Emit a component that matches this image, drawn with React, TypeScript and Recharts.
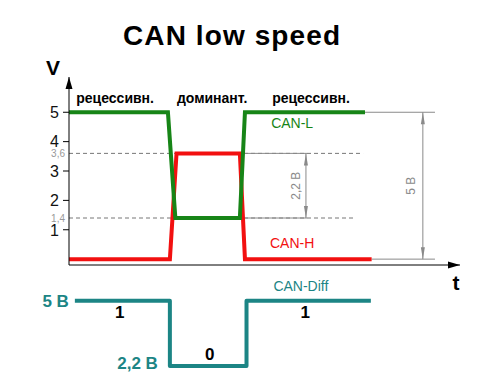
import React from 'react';
import { LineChart, Line, XAxis, YAxis, ReferenceLine, ReferenceDot } from 'recharts';

// time axis runs 0..10 (arbitrary units), voltage in volts
const canL = [
  { t: 0, v: 5 },
  { t: 2.53, v: 5 },
  { t: 2.72, v: 1.4 },
  { t: 4.37, v: 1.4 },
  { t: 4.5, v: 5 },
  { t: 7.57, v: 5 },
];

const canH = [
  { t: 0, v: 0 },
  { t: 2.58, v: 0 },
  { t: 2.75, v: 3.6 },
  { t: 4.37, v: 3.6 },
  { t: 4.5, v: 0 },
  { t: 7.74, v: 0 },
];

const canDiff = [
  { t: 0.15, v: 5 },
  { t: 2.58, v: 5 },
  { t: 2.58, v: 2.2 },
  { t: 4.54, v: 2.2 },
  { t: 4.54, v: 5 },
  { t: 7.72, v: 5 },
];

const voltTicks = [1, 1.4, 2, 3, 3.6, 4, 5];
const phases = ['рецессивн.', 'доминант.', 'рецессивн.'];
const bits = ['1', '0', '1'];

const FONT = 'Liberation Sans, Arial, Helvetica, sans-serif';
const GREEN = '#178517';
const RED = '#f21010';
const TEAL = '#1c8585';
const GREY = '#8a8a8a';

const VTick = (props: any) => {
  const { x, y, payload } = props;
  const minor = !Number.isInteger(payload.value);
  if (minor) {
    return (
      <text x={x - 4} y={y} dy="0.35em" textAnchor="end" fontSize={10} fill="#999" fontFamily={FONT}>
        {String(payload.value).replace('.', ',')}
      </text>
    );
  }
  return (
    <g>
      <line x1={x - 6} x2={x} y1={y} y2={y} stroke="#000" />
      <text x={x - 10} y={y} dy="0.36em" textAnchor="end" fontSize={16} fill="#111" fontFamily={FONT}>
        {payload.value}
      </text>
    </g>
  );
};

const note =
  (text: string, o: { dx?: number; dy?: number; size?: number; fill?: string; bold?: boolean; anchor?: string; rot?: boolean }) =>
  (p: any) => {
    const x = p.cx + (o.dx || 0);
    const y = p.cy + (o.dy || 0);
    return (
      <text
        x={x}
        y={y}
        textAnchor={o.anchor || 'middle'}
        fontSize={o.size || 14}
        fill={o.fill || '#000'}
        fontWeight={o.bold ? 'bold' : 'normal'}
        fontFamily={FONT}
        transform={o.rot ? `rotate(-90 ${x} ${y})` : undefined}
      >
        {text}
      </text>
    );
  };

const arrow = (dir: 'up' | 'down' | 'right', color: string, len: number, half: number) => (p: any) => {
  const { cx, cy } = p;
  let pts = '';
  if (dir === 'up') pts = `${cx},${cy} ${cx - half},${cy + len} ${cx + half},${cy + len}`;
  if (dir === 'down') pts = `${cx},${cy} ${cx - half},${cy - len} ${cx + half},${cy - len}`;
  if (dir === 'right') pts = `${cx},${cy} ${cx - len},${cy - half} ${cx - len},${cy + half}`;
  return <polygon points={pts} fill={color} />;
};

export default function App() {
  return (
    <div style={{ position: 'absolute', left: 0, top: 0, width: 485, height: 391, background: '#fff' }}>
      <svg width={485} height={391} style={{ position: 'absolute', left: 0, top: 0 }}>
        <text x={123} y={45} fontSize={28} fontWeight="bold" fontFamily={FONT} textLength={217} lengthAdjust="spacing">
          CAN low speed
        </text>
        <text x={53} y={75} textAnchor="middle" fontSize={21} fontWeight="bold" fontFamily={FONT}>V</text>
        <text x={456} y={290} textAnchor="middle" fontSize={21} fontWeight="bold" fontFamily={FONT}>t</text>
      </svg>

      <div style={{ position: 'absolute', left: 0, top: 0 }}>
        <LineChart width={485} height={391} margin={{ top: 77, right: 25, bottom: 100, left: 0 }}>
          <XAxis dataKey="t" type="number" domain={[0, 10]} allowDataOverflow tick={false} tickLine={false} height={26} axisLine={{ stroke: '#000' }} />
          <YAxis
            dataKey="v"
            type="number"
            domain={[-0.2, 6.2]}
            allowDataOverflow
            ticks={voltTicks}
            width={69}
            tickLine={false}
            tickSize={0}
            tickMargin={0}
            tick={<VTick />}
            axisLine={{ stroke: '#000' }}
            interval={0}
          />

          <ReferenceLine segment={[{ x: 0, y: 3.6 }, { x: 7.52, y: 3.6 }]} stroke="#777" strokeDasharray="4 3" />
          <ReferenceLine segment={[{ x: 0, y: 1.4 }, { x: 7.31, y: 1.4 }]} stroke="#777" strokeDasharray="4 3" />
          <ReferenceLine segment={[{ x: 4.5, y: 3.6 }, { x: 6.09, y: 3.6 }]} stroke={GREY} />
          <ReferenceLine segment={[{ x: 4.37, y: 1.4 }, { x: 6.09, y: 1.4 }]} stroke={GREY} />
          <ReferenceLine segment={[{ x: 7.57, y: 5 }, { x: 9.36, y: 5 }]} stroke={GREY} />
          <ReferenceLine segment={[{ x: 7.74, y: 0 }, { x: 9.36, y: 0 }]} stroke={GREY} />
          <ReferenceLine segment={[{ x: 9.05, y: 0 }, { x: 9.05, y: 5 }]} stroke={GREY} />
          <ReferenceLine segment={[{ x: 6.06, y: 1.4 }, { x: 6.06, y: 3.6 }]} stroke={GREY} />

          <Line data={canH} dataKey="v" type="linear" stroke={RED} strokeWidth={4} dot={false} isAnimationActive={false} />
          <Line data={canL} dataKey="v" type="linear" stroke={GREEN} strokeWidth={4} dot={false} isAnimationActive={false} />

          <ReferenceDot x={9.05} y={5} ifOverflow="visible" shape={arrow('up', GREY, 12, 2)} />
          <ReferenceDot x={9.05} y={0} ifOverflow="visible" shape={arrow('down', GREY, 12, 2)} />
          <ReferenceDot x={6.06} y={3.6} ifOverflow="visible" shape={arrow('up', GREY, 12, 2)} />
          <ReferenceDot x={6.06} y={1.4} ifOverflow="visible" shape={arrow('down', GREY, 12, 2)} />
          <ReferenceDot x={10} y={-0.2} ifOverflow="visible" shape={arrow('right', '#000', 12, 3.5)} />
          <ReferenceDot x={0} y={6.2} ifOverflow="visible" shape={arrow('up', '#000', 12, 3.5)} />

          <ReferenceDot x={1.18} y={5.31} ifOverflow="visible" shape={note(phases[0], { bold: true, size: 14 })} />
          <ReferenceDot x={3.66} y={5.31} ifOverflow="visible" shape={note(phases[1], { bold: true, size: 14 })} />
          <ReferenceDot x={6.19} y={5.31} ifOverflow="visible" shape={note(phases[2], { bold: true, size: 14 })} />
          <ReferenceDot x={5.17} y={4.46} ifOverflow="visible" shape={note('CAN-L', { anchor: 'start', fill: GREEN, size: 14 })} />
          <ReferenceDot x={5.14} y={0.38} ifOverflow="visible" shape={note('CAN-H', { anchor: 'start', fill: RED, size: 14 })} />
          <ReferenceDot x={8.85} y={2.5} ifOverflow="visible" shape={note('5 B', { rot: true, fill: GREY, size: 12 })} />
          <ReferenceDot x={5.92} y={2.5} ifOverflow="visible" shape={note('2,2 B', { rot: true, fill: GREY, size: 12 })} />
        </LineChart>
      </div>

      <div style={{ position: 'absolute', left: 0, top: 0 }}>
        <LineChart width={485} height={391} margin={{ top: 277.4, right: 25, bottom: 20.3, left: 69 }}>
          <XAxis dataKey="t" type="number" domain={[0, 10]} hide />
          <YAxis dataKey="v" type="number" domain={[2, 6]} hide />
          <Line data={canDiff} dataKey="v" type="linear" stroke={TEAL} strokeWidth={4} strokeLinejoin="round" dot={false} isAnimationActive={false} />
          <ReferenceDot x={0.15} y={5} ifOverflow="visible" shape={note('5 B', { anchor: 'end', dx: -6, dy: 6, bold: true, fill: TEAL, size: 17 })} />
          <ReferenceDot x={2.58} y={2.2} ifOverflow="visible" shape={note('2,2 B', { anchor: 'end', dx: -12, dy: 3, bold: true, fill: TEAL, size: 17 })} />
          <ReferenceDot x={1.3} y={5} ifOverflow="visible" shape={note(bits[0], { dy: 17, bold: true, size: 17 })} />
          <ReferenceDot x={3.6} y={2.2} ifOverflow="visible" shape={note(bits[1], { dy: -6, bold: true, size: 17 })} />
          <ReferenceDot x={6.04} y={5} ifOverflow="visible" shape={note(bits[2], { dy: 17, bold: true, size: 17 })} />
          <ReferenceDot x={5.93} y={5} ifOverflow="visible" shape={note('CAN-Diff', { dy: -10, fill: TEAL, size: 14 })} />
        </LineChart>
      </div>
    </div>
  );
}
